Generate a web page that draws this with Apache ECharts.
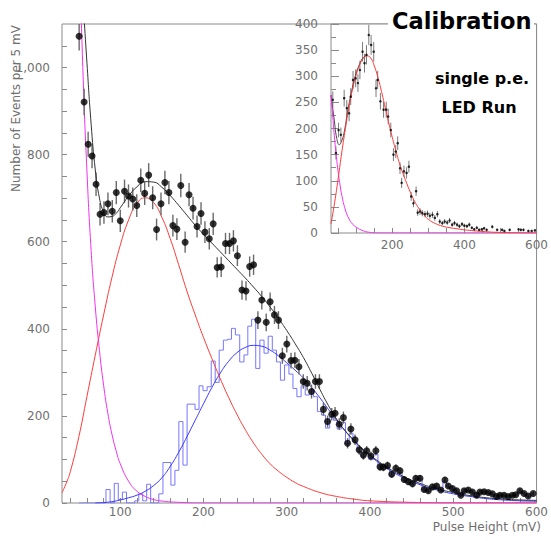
<!DOCTYPE html>
<html>
<head>
<meta charset="utf-8">
<script src="https://cdn.jsdelivr.net/npm/echarts@6/dist/echarts.min.js"></script>
<style>
  html, body { margin: 0; padding: 0; background: #fff; }
  #chart { width: 551px; height: 541px; }
</style>
</head>
<body>
<div id="chart"></div>
<script>
// main panel: measured spectrum, 5 mV bins (bin centres in mV)
const binCenters = [
  50.6, 56.6, 61.4, 66.1, 70.9, 75.7, 80.4, 85.2, 90.4, 95.2,
  100.0, 105.1, 109.9, 115.0, 119.8, 124.6, 129.3, 134.1, 138.9, 143.6,
  148.9, 153.6, 158.4, 163.2, 168.0, 172.7, 177.9, 182.6, 187.4, 192.2,
  197.0, 201.7, 206.9, 211.6, 216.4, 221.2, 226.4, 231.2, 235.9, 240.7,
  246.2, 251.0, 255.4, 260.1, 265.3, 270.0, 275.3, 280.0, 285.2, 290.0,
  294.7, 300.0, 305.1, 309.7, 314.6, 319.8, 324.5, 329.7, 334.4, 339.2,
  344, 349, 354, 358, 363, 368, 373, 377, 382, 387,
  392, 396, 401, 407, 412, 416, 421, 426, 431, 436,
  441, 446, 451, 455, 460, 465, 470, 475, 480, 485,
  490, 494, 499, 504, 509, 513, 518, 523, 528, 532,
  537, 542, 547, 552, 556, 561, 566, 571, 575, 580,
  585, 590, 596
];
const eventCounts = [
  1072, 921, 824, 797, 732, 663, 667, 687, 670, 713,
  648, 716, 705, 698, 683, 741, 711, 753, 701, 628,
  687, 736, 713, 637, 629, 729, 599, 708, 677, 635,
  665, 622, 607, 641, 541, 542, 596, 596, 602, 568,
  489, 487, 543, 547, 420, 466, 415, 462, 432, 420,
  338, 365, 327, 328, 313, 279, 275, 256, 279, 279,
  215, 187, 204, 206, 181, 196, 137, 170, 145, 122,
  110, 120, 108, 120, 83, 82, 86, 66, 80, 74,
  54, 49, 44, 57, 57, 31, 28, 37, 39, 30,
  53, 39, 33, 28, 18, 28, 30, 25, 18, 25,
  26, 24, 21, 15, 18, 18, 15, 18, 19, 28,
  22, 16, 22
];
// blue histogram (same bins)
const twoPeCounts = [
  0, 0, 0, 0, 0, 0, 0, 31, 0, 45,
  8, 25, 0, 0, 5, 21, 5, 43, 0, 0,
  21, 93, 93, 41, 75, 187, 87, 227, 227, 215,
  269, 258, 267, 326, 277, 351, 374, 376, 401, 386,
  324, 340, 406, 422, 309, 374, 344, 383, 351, 324,
  282, 317, 296, 263, 244, 269, 248, 258, 244, 210,
  202, 172, 198, 190, 170, 185, 135, 160, 140, 118,
  105, 115, 100, 112, 80, 78, 82, 62, 76, 70,
  52, 47, 42, 55, 55, 30, 27, 35, 37, 29,
  50, 37, 32, 27, 17, 27, 29, 24, 17, 24,
  25, 23, 20, 14, 17, 17, 14, 17, 18, 27,
  21, 15, 21
];

// fitted curves
const pedestalX = [50, 55, 60, 65, 70, 75, 80, 85, 90, 95, 100, 110, 120, 130, 140, 150, 170, 200, 300, 600];
const pedestalY = [1320, 1000, 760, 580, 450, 350, 270, 207, 158, 120, 90, 50, 27, 15, 8, 4.5, 1.5, 0, 0, 0];
const onePeX = [30, 35, 40, 50, 60, 70, 80, 90, 100, 110, 120, 130, 140, 150, 160, 170, 180, 190, 200, 210,
  220, 230, 240, 250, 260, 270, 280, 290, 300, 310, 320, 340, 360, 380, 400, 450, 500, 600];
const onePeY = [24, 45, 72, 150, 245, 340, 432, 518, 592, 650, 688, 701, 690, 656, 607, 548, 487, 432, 380, 332,
  286, 243, 204, 169, 138, 112, 90, 73, 59, 47, 38, 24, 15, 9, 5, 1.5, 0.3, 0];
const twoPeFitX = [70, 80, 90, 100, 110, 120, 130, 140, 150, 160, 170, 180, 190, 200, 210, 220, 230, 240, 250, 260,
  270, 280, 290, 300, 310, 320, 330, 340, 350, 360, 370, 380, 390, 400, 420, 440, 460, 480, 500, 520, 540, 560, 580, 600];
const twoPeFitY = [0, 1, 3, 7, 12, 18, 27, 40, 58, 84, 116, 152, 190, 228, 265, 298, 325, 345, 357, 362,
  360, 351, 338, 322, 305, 287, 265, 241, 215, 190, 166, 145, 125, 108, 80, 58, 42, 30, 21, 15, 10, 7, 5, 4];
const totalFitX = [55, 60, 65, 70, 75, 80, 85, 90, 95, 100, 110, 120, 130, 140, 150, 160, 170, 180, 190, 200,
  210, 220, 230, 240, 250, 260, 270, 280, 290, 300, 310, 320, 330, 340, 350, 360, 370, 380, 390, 400,
  420, 440, 460, 480, 500, 520, 540, 560, 580, 600];
const totalFitY = [1160, 1010, 870, 765, 700, 668, 657, 658, 665, 678, 705, 726, 738, 737, 725, 706, 684, 661, 638, 617,
  597, 577, 557, 537, 517, 496, 474, 450, 424, 396, 366, 334, 298, 260, 224, 192, 166, 145, 126, 110,
  83, 61, 45, 33, 24, 17, 12, 9, 7, 6];

// inset: single p.e. LED run
const insetX = [
  35, 43.7, 51, 57.4, 66.5, 73.8, 80.2, 84.7, 91.1, 98.4,
  104.7, 110.2, 117.5, 122.9, 128.4, 134.8, 141.2, 148.5, 154.8, 159.4,
  167, 175.8, 183.1, 188.6, 195.8, 203.1, 209.5, 215, 221.4, 225.9,
  232.3, 239.6, 246, 252.3, 258.6, 266, 270.4, 277, 283.2, 290.6,
  297.7, 304.2, 311.3, 317.9, 325, 331.6, 338.7, 345.2, 352.3, 358.9,
  366, 372.5, 379.6, 386.1, 393.3, 399.8, 406.9, 413.5, 420.6, 427.2,
  434.3, 440.8, 448, 454.5, 461.6, 477.2, 490.8, 504.5, 510.8, 525.5,
  550.1, 556.4, 563.7, 577.4, 586.5, 595.5
];
const insetY = [
  255, 153, 197, 188, 258, 239, 229, 261, 293, 296,
  287, 312, 347, 325, 341, 379, 360, 347, 277, 293,
  252, 236, 236, 223, 197, 150, 156, 172, 124, 96,
  118, 115, 127, 70, 57, 80, 39, 41, 38, 36,
  37, 33, 35, 29, 36, 22, 19, 22, 20, 24,
  16, 19, 16, 13, 17, 14, 13, 16, 10, 7,
  10, 6, 7, 9, 6, 12, 6, 6, 4, 6,
  7, 6, 6, 4, 4, 5
];
const insetPedX = [30, 35, 40, 45, 50, 55, 60, 70, 80, 90, 100, 120, 140, 160, 600];
const insetPedY = [264, 222, 180, 146, 116, 92, 72, 44, 27, 17, 11, 4, 1, 0, 0];
const insetOnePeX = [30, 40, 50, 60, 70, 80, 90, 100, 110, 120, 130, 140, 150, 160, 170, 180, 190, 200, 210, 220,
  230, 240, 250, 260, 270, 280, 290, 300, 320, 340, 360, 380, 400, 450, 500, 600];
const insetOnePeY = [17, 58, 105, 155, 200, 242, 276, 303, 323, 335, 339, 335, 320, 298, 271, 241, 211, 183, 157, 133,
  113, 95, 78, 63, 51, 41, 33, 26, 18, 13, 10, 8, 6, 3, 1, 0];
const insetFitX = [30, 39, 46, 53, 59, 66, 76, 85, 98, 110, 120, 130];
const insetFitY = [264, 216, 181, 169, 175, 191, 232, 264, 302, 324, 336, 340];

// ticks and tick labels
const mainXLabels = [100, 200, 300, 400, 500, 600];
const mainXTicks = [40, 60, 80, 100, 120, 140, 160, 180, 200, 220, 240, 260, 280, 300, 320, 340, 360, 380, 400,
  420, 440, 460, 480, 500, 520, 540, 560, 580, 600];
const mainYLabels = [0, 200, 400, 600, 800, 1000];
const mainYTicks = [0, 50, 100, 150, 200, 250, 300, 350, 400, 450, 500, 550, 600, 650, 700, 750, 800, 850,
  900, 950, 1000, 1050];
const insetXLabels = [200, 400, 600];
const insetXTicks = [50, 100, 150, 200, 250, 300, 350, 400, 450, 500, 550, 600];
const insetYLabels = [0, 50, 100, 150, 200, 250, 300, 350, 400];
const insetYMinorTicks = [25, 75, 125, 175, 225, 275, 325, 375];

const pairs = (xs, ys) => xs.map((x, i) => [x, ys[i]]);
const withErr = (xs, ys) => xs.map((x, i) => [x, ys[i], Math.sqrt(ys[i])]); // Poisson errors

const axisColor = '#8a8a8a';
const labelFont = { color: '#707070', fontFamily: 'DejaVu Sans', fontSize: 12 };

const xAxisCfg = (gridIndex, ticks, labels, margin) => ({
  type: 'value', gridIndex, min: 30, max: 600,
  axisLine: { show: false }, splitLine: { show: false },
  axisTick: { inside: true, length: 5, customValues: ticks, lineStyle: { color: axisColor } },
  axisLabel: { customValues: labels, margin, ...labelFont }
});
const yAxisCfg = (gridIndex, max, ticks, labels, len, margin) => ({
  type: 'value', gridIndex, min: 0, max, position: 'left',
  axisLine: { show: false }, splitLine: { show: false },
  axisTick: { inside: true, length: len, customValues: ticks, lineStyle: { color: axisColor } },
  axisLabel: labels ? { customValues: labels, margin, ...labelFont } : { show: false }
});

const curve = (data, color, xi, yi, z) => ({
  type: 'line', data, xAxisIndex: xi, yAxisIndex: yi, z,
  smooth: true, symbol: 'none', silent: true, clip: true,
  lineStyle: { color, width: 1 }
});
const errorBars = (data, color, width, xi, yi, z) => ({
  type: 'custom', data, xAxisIndex: xi, yAxisIndex: yi, z, clip: true, silent: true,
  renderItem: (params, api) => {
    const x = api.value(0), y = api.value(1), e = api.value(2);
    const lo = api.coord([x, y - e]);
    const hi = api.coord([x, y + e]);
    return { type: 'line', shape: { x1: lo[0], y1: lo[1], x2: hi[0], y2: hi[1] }, style: { stroke: color, lineWidth: width } };
  }
});

const chart = echarts.init(document.getElementById('chart'), null, { renderer: 'svg' });

const option = {
  animation: false,
  backgroundColor: '#fff',
  grid: [
    { left: 62, top: 24, width: 478, height: 479, show: true, borderColor: axisColor, borderWidth: 1 },
    { left: 331, top: 24, width: 209, height: 209, show: true, backgroundColor: '#fff', borderColor: axisColor, borderWidth: 1 }
  ],
  xAxis: [
    xAxisCfg(0, mainXTicks, mainXLabels, 3),
    xAxisCfg(1, insetXTicks, insetXLabels, 6)
  ],
  yAxis: [
    yAxisCfg(0, 1100, mainYTicks, mainYLabels, 5, 12),
    yAxisCfg(1, 400, insetYLabels, insetYLabels, 8, 13),
    yAxisCfg(1, 400, insetYMinorTicks, null, 5, 0)
  ],
  series: [
    {
      type: 'line', data: pairs(binCenters, twoPeCounts), xAxisIndex: 0, yAxisIndex: 0, z: 2,
      step: 'middle', symbol: 'none', silent: true, lineStyle: { color: '#7676ff', width: 1 }
    },
    curve(pairs(twoPeFitX, twoPeFitY), '#3838ff', 0, 0, 3),
    curve(pairs(onePeX, onePeY), '#ff3a3a', 0, 0, 3),
    curve(pairs(pedestalX, pedestalY), '#f030f0', 0, 0, 3),
    errorBars(withErr(binCenters, eventCounts), '#6a6a6a', 1.4, 0, 0, 4),
    curve(pairs(totalFitX, totalFitY), '#333333', 0, 0, 4),
    {
      type: 'scatter', data: pairs(binCenters, eventCounts), xAxisIndex: 0, yAxisIndex: 0, z: 5,
      symbol: 'circle', symbolSize: 7, silent: true, itemStyle: { color: '#000' }
    },

    errorBars(withErr(insetX, insetY), '#7a7a7a', 1, 1, 1, 4),
    curve(pairs(insetFitX, insetFitY), '#444444', 1, 1, 4),
    curve(pairs(insetPedX, insetPedY), '#f030f0', 1, 1, 4),
    curve(pairs(insetOnePeX, insetOnePeY), '#ff3a3a', 1, 1, 4),
    {
      type: 'scatter', data: pairs(insetX, insetY), xAxisIndex: 1, yAxisIndex: 1, z: 5,
      symbol: 'circle', symbolSize: 2.5, silent: true, itemStyle: { color: '#000' }
    }
  ],
  graphic: [
    { type: 'rect', z: 100, shape: { x: 388, y: 6, width: 146, height: 32 }, style: { fill: '#fff' } },
    {
      type: 'text', z: 101, x: 392, y: 20.5,
      style: { text: 'Calibration', font: 'bold 22.5px "DejaVu Sans"', fill: '#000', textAlign: 'left', textVerticalAlign: 'middle' }
    },
    {
      type: 'text', z: 101, x: 482, y: 78.5,
      style: { text: 'single p.e.', font: 'bold 16px "DejaVu Sans"', fill: '#000', textAlign: 'center', textVerticalAlign: 'middle' }
    },
    {
      type: 'text', z: 101, x: 479, y: 107.8,
      style: { text: 'LED Run', font: 'bold 16px "DejaVu Sans"', fill: '#000', textAlign: 'center', textVerticalAlign: 'middle' }
    },
    {
      type: 'text', z: 101, x: 16, y: 108.5, rotation: Math.PI / 2,
      style: { text: 'Number of Events per 5 mV', font: '12px "DejaVu Sans"', fill: '#707070', textAlign: 'center', textVerticalAlign: 'middle' }
    },
    {
      type: 'text', z: 101, x: 541, y: 527,
      style: { text: 'Pulse Height (mV)', font: '12px "DejaVu Sans"', fill: '#707070', textAlign: 'right', textVerticalAlign: 'middle' }
    }
  ]
};

chart.setOption(option);
</script>
</body>
</html>
